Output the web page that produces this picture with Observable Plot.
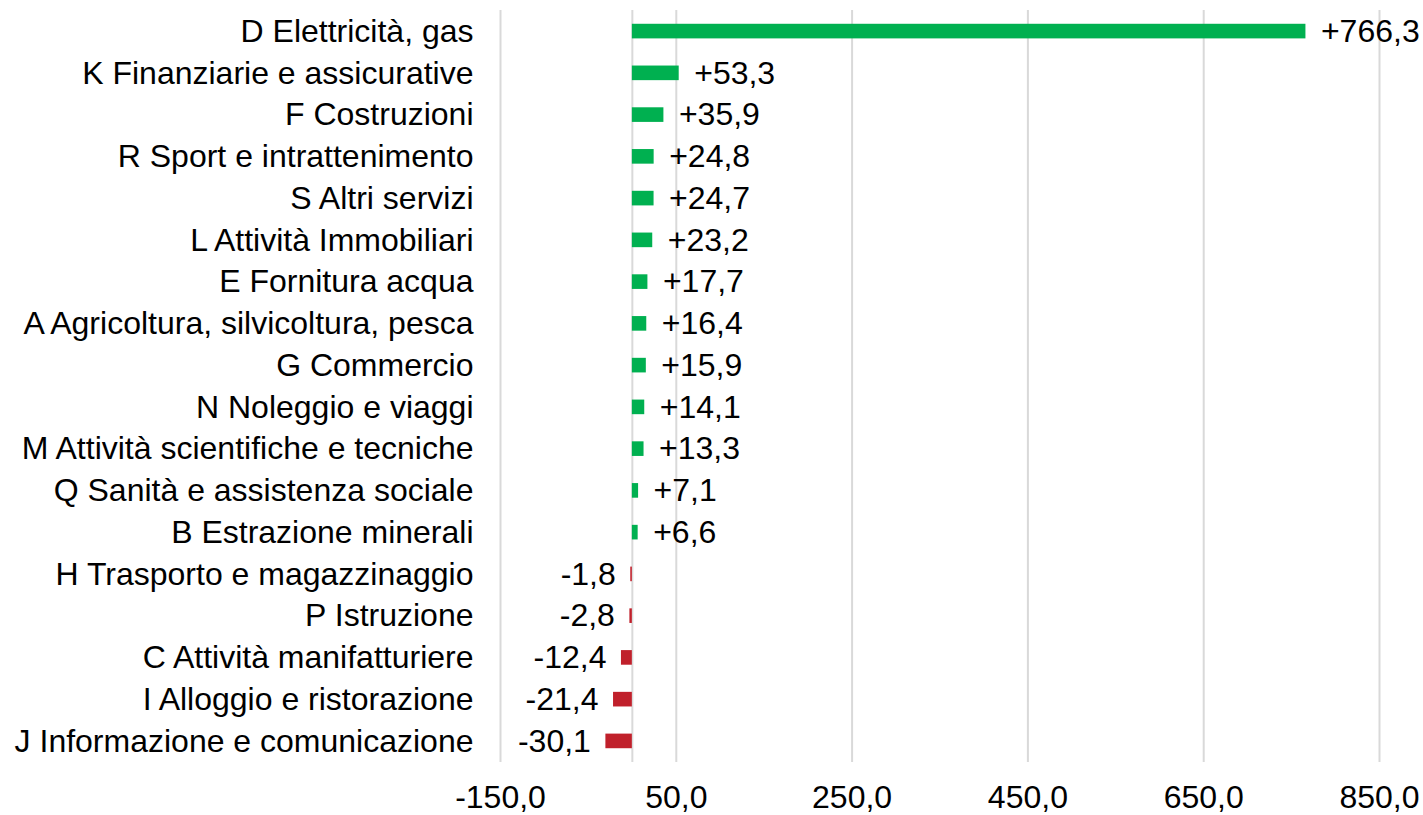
<!DOCTYPE html>
<html>
<head>
<meta charset="utf-8">
<script src="https://cdn.jsdelivr.net/npm/d3@7"></script>
<script src="https://cdn.jsdelivr.net/npm/@observablehq/plot@0.6"></script>
<style>
  html, body { margin: 0; padding: 0; background: #fff; }
  #chart svg { display: block; }
</style>
</head>
<body>
<div id="chart"></div>
<script>
const categories = [
  "D Elettricità, gas",
  "K Finanziarie e assicurative",
  "F Costruzioni",
  "R Sport e intrattenimento",
  "S Altri servizi",
  "L Attività Immobiliari",
  "E Fornitura acqua",
  "A Agricoltura, silvicoltura, pesca",
  "G Commercio",
  "N Noleggio e viaggi",
  "M Attività scientifiche e tecniche",
  "Q Sanità e assistenza sociale",
  "B Estrazione minerali",
  "H Trasporto e magazzinaggio",
  "P Istruzione",
  "C Attività manifatturiere",
  "I Alloggio e ristorazione",
  "J Informazione e comunicazione"
];
const values = [766.3, 53.3, 35.9, 24.8, 24.7, 23.2, 17.7, 16.4, 15.9, 14.1, 13.3, 7.1, 6.6, -1.8, -2.8, -12.4, -21.4, -30.1];
const xTicks = [-150, 50, 250, 450, 650, 850];

const data = categories.map((c, i) => ({category: c, value: values[i]}));
const fmt = v => (v > 0 ? "+" : "") + v.toFixed(1).replace(".", ",");
const tickFmt = v => v.toFixed(1).replace(".", ",");

const chart = Plot.plot({
  width: 1423,
  height: 815,
  marginLeft: 500,
  marginRight: 44,
  marginTop: 10,
  marginBottom: 53,
  style: {fontSize: "32px", fontFamily: "'Liberation Sans', Arial, sans-serif", color: "#000", background: "#fff"},
  x: {domain: [-150, 850], ticks: xTicks, tickFormat: tickFmt, tickSize: 0, tickPadding: 23, label: null},
  y: {domain: categories, paddingInner: 0.65, paddingOuter: 0.33, round: false, tickSize: 0, tickPadding: 27, label: null},
  marks: [
    Plot.gridX(xTicks, {stroke: "#d9d9d9", strokeWidth: 2, strokeOpacity: 1}),
    Plot.ruleX([0], {stroke: "#d9d9d9", strokeWidth: 2}),
    Plot.barX(data, {x: "value", y: "category", fill: d => d.value >= 0 ? "#00b050" : "#c0202b"}),
    Plot.text(data.filter(d => d.value >= 0), {x: "value", y: "category", text: d => fmt(d.value), textAnchor: "start", dx: 15, fill: "#000"}),
    Plot.text(data.filter(d => d.value < 0), {x: "value", y: "category", text: d => fmt(d.value), textAnchor: "end", dx: -15, fill: "#000"})
  ]
});
document.getElementById("chart").appendChild(chart);
</script>
</body>
</html>
